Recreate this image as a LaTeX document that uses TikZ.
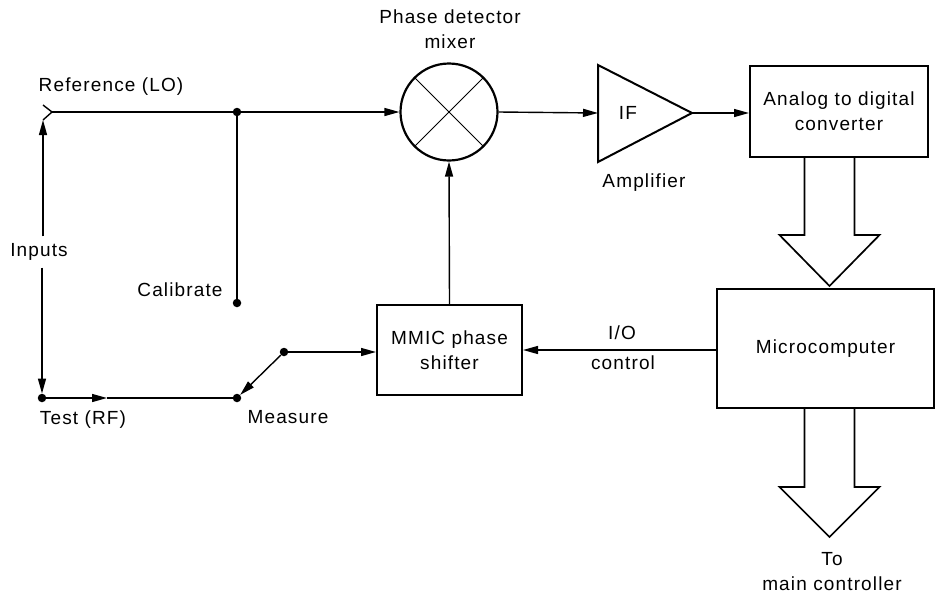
\documentclass[tikz,border=0pt]{standalone}
\usepackage{fontspec}
\setmainfont{Liberation Sans}[LetterSpace=6]
\usetikzlibrary{arrows.meta}
\begin{document}
\begin{tikzpicture}[x=1pt,y=-1pt,
  every node/.style={font=\fontsize{19}{25}\selectfont, inner sep=0pt},
  lbl/.style={align=center},
  blk/.style={draw, line width=2pt, align=center},
  dot/.style={circle, fill=black, minimum size=8.5pt, inner sep=0pt},
  wire/.style={line width=1.4pt},
  arr/.style={wire, -{Triangle[length=15pt,width=8pt]}},
  fat/.style={line width=1.7pt, line join=miter}
]
\useasboundingbox (0,0) rectangle (935,600);

% mixer
\node[circle, draw, line width=2.2pt, minimum size=97pt] (mix) at (449,112) {};
\draw[line width=1pt] (mix.45) -- (mix.225);
\draw[line width=1pt] (mix.135) -- (mix.315);
\node[lbl] (mixlbl) at (450,29) {Phase detector\\mixer};

% IF amplifier
\coordinate (ampL) at (598,113);
\coordinate (ampR) at (692,113);
\draw[line width=2pt, line join=miter] (598,65) -- (ampR) -- (598,162) -- cycle;
\node (if) at (628,113) {IF};
\node (amplbl) at (644,183) {Amplifier};

% blocks
\node[blk, minimum width=178pt, minimum height=91pt] (adc) at (839,111.5) {Analog to digital\\converter};
\node[blk, minimum width=217pt, minimum height=119pt] (micro) at (825.5,348.5) {Microcomputer};
\node[blk, minimum width=145pt, minimum height=90pt] (mmic) at (449.5,350) {MMIC phase\\shifter};

% wide arrows
\draw[fat] (804.5,157) -- (804.5,235) -- (779.5,235) -- (829.5,286) -- (879.5,235) -- (854.5,235) -- (854.5,157);
\draw[fat] (804.5,408) -- (804.5,487) -- (779.5,487) -- (829.5,537) -- (879.5,487) -- (854.5,487) -- (854.5,408);
\node[lbl] (tomain) at (832,572) {To\\main controller};

% left side labels
\node (reflbl) at (111,87) {Reference (LO)};
\node[inner sep=7pt] (inputs) at (39,252) {Inputs};
\node (callbl) at (180,290) {Calibrate};
\node (testlbl) at (83,420) {Test (RF)};
\node (measlbl) at (288,417) {Measure};
\node (io) at (622,333) {I/O};
\node (ctrl) at (623,363) {control};

% dots
\node[dot] (j1) at (237,112) {};
\node[dot] (cal) at (237,303) {};
\node[dot] (test) at (42,398) {};
\node[dot] (meas) at (237,398) {};
\node[dot] (sw) at (284,352) {};

% reference input fork
\coordinate (fkt) at (43,105);
\coordinate (refj) at (52,112);
\coordinate (fkb) at (43,120);
\draw[wire] (fkt) -- (refj) -- (fkb);
\draw[wire] (refj) -- (j1);
\draw[arr] (j1) -- (mix.west);
\draw[wire] (j1) -- (cal);

% inputs double arrow
\draw[arr] (inputs.north -| fkb) -- (fkb);
\draw[arr] (inputs.south -| test) -- (test);

% test line
\coordinate (tm) at (107,398);
\draw[arr] (test) -- (tm);
\draw[wire] (tm) -- (meas);

% switch
\draw[arr] (sw) -- (meas);
\draw[arr] (sw) -- (mmic.west |- sw);

% signal path
\draw[arr] (mix.east) -- (ampL);
\draw[arr] (ampR) -- (adc.west |- ampR);
\draw[arr] (mmic.north) -- (mix.south);
\draw[arr] (mmic.east -| micro.west) -- (mmic.east);
\end{tikzpicture}
\end{document}
